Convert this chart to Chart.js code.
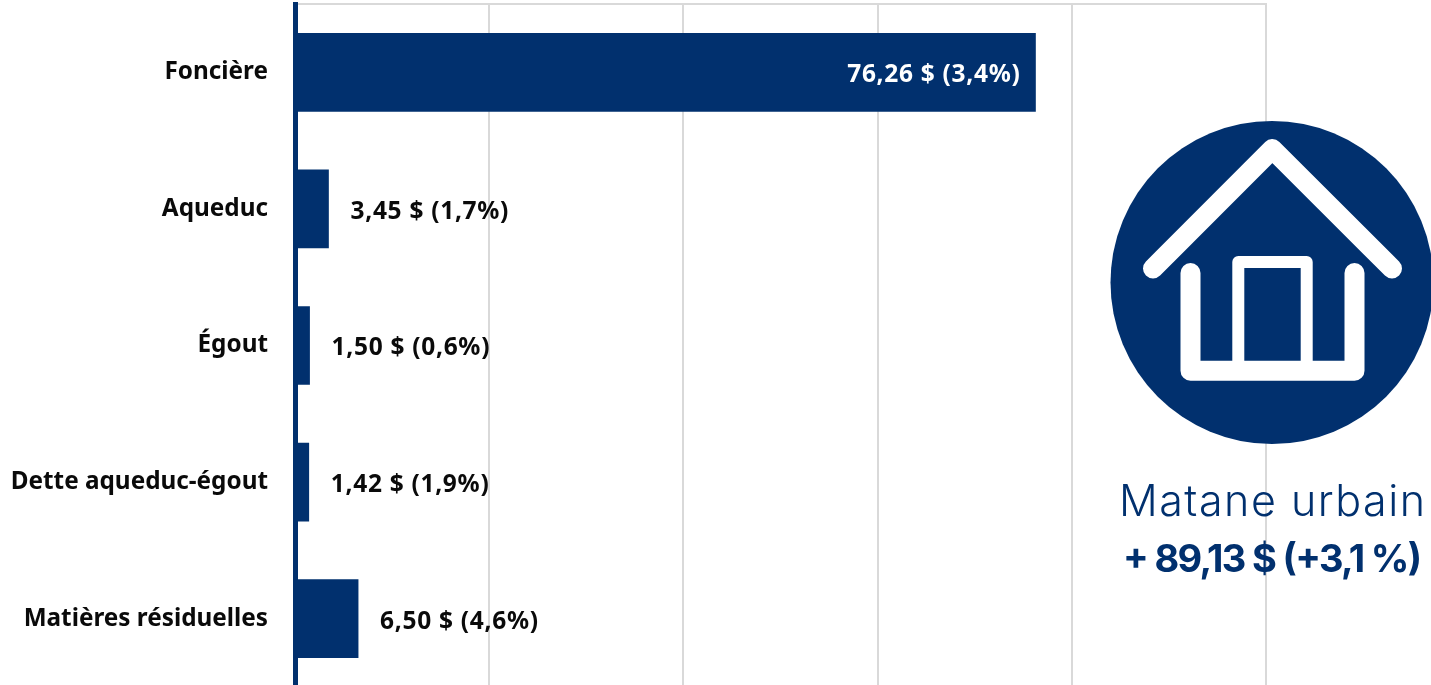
<!DOCTYPE html>
<html lang="fr">
<head>
<meta charset="utf-8">
<title>Matane urbain</title>
<script src="https://cdn.jsdelivr.net/npm/chart.js@4/dist/chart.umd.min.js"></script>
<style>
  html, body { margin: 0; padding: 0; background: #fff; overflow: hidden; }
  #wrap { position: relative; width: 1431px; height: 685px; overflow: hidden; }
  #chart { position: absolute; left: 0; top: 0; }
  #icon { position: absolute; left: 0; top: 0; }
</style>
</head>
<body>
<div id="wrap">
  <canvas id="chart" width="1431" height="690"></canvas>
  <svg id="icon" width="1431" height="685" viewBox="0 0 1431 685">
    <circle cx="1272" cy="282.5" r="161.5" fill="#01306e"/>
    <g fill="none" stroke="#fff" stroke-linecap="round" stroke-linejoin="round" stroke-width="20">
      <path d="M1153 268.5 L1272.3 149 L1392 268.5"/>
      <path d="M1190.5 273 V370.7 H1354.5 V273"/>
      <path d="M1238.3 370 V262 H1306.7 V370" stroke-width="12"/>
    </g>
    <text x="1119" y="516" font-family="Inter" font-weight="300" font-size="43" fill="#01306e" textLength="306" lengthAdjust="spacing">Matane urbain</text>
    <text x="1123" y="572" font-family="Inter" font-weight="700" font-size="38" fill="#01306e" textLength="299" lengthAdjust="spacing">+ 89,13 $ (+3,1 %)</text>
  </svg>
</div>
<script>
const categories = ["Foncière", "Aqueduc", "Égout", "Dette aqueduc-égout", "Matières résiduelles"];
const values = [76.26, 3.45, 1.50, 1.42, 6.50];
const valueLabels = ["76,26 $ (3,4%)", "3,45 $ (1,7%)", "1,50 $ (0,6%)", "1,42 $ (1,9%)", "6,50 $ (4,6%)"];

const navy = "#01306e";

// labels next to the bars, the long bar gets its label inside
const barLabels = {
  id: "barLabels",
  afterDatasetsDraw(chart) {
    const ctx = chart.ctx;
    const bars = chart.getDatasetMeta(0).data;
    ctx.save();
    ctx.font = "700 24.5px 'Noto Sans'";
    ctx.letterSpacing = "0.7px";
    ctx.textBaseline = "middle";
    bars.forEach((bar, i) => {
      const inside = values[i] > 50;
      ctx.fillStyle = inside ? "#fff" : "#0a0a0a";
      ctx.textAlign = inside ? "right" : "left";
      ctx.fillText(valueLabels[i], bar.x + (inside ? -15 : 22), bar.y + 3);
    });
    ctx.restore();
  }
};

new Chart(document.getElementById("chart"), {
  type: "bar",
  data: {
    labels: categories,
    datasets: [{ data: values, backgroundColor: navy, barThickness: 78, borderWidth: 0 }]
  },
  options: {
    indexAxis: "y",
    responsive: false,
    animation: false,
    layout: { padding: { top: 4, right: 165, bottom: 3, left: 0 } },
    plugins: { legend: { display: false }, tooltip: { enabled: false } },
    scales: {
      x: {
        position: "top",
        min: 0,
        max: 100,
        ticks: { stepSize: 20, display: false },
        grid: { color: "#d9d9d9", lineWidth: 2, drawTicks: false },
        border: { color: "#d9d9d9", width: 2 }
      },
      y: {
        afterFit(scale) {
          scale.width = 295;
          scale.paddingTop = 0;
          scale.paddingBottom = 0;
        },
        ticks: { color: "#0a0a0a", font: { family: "'Noto Sans'", size: 24.3, weight: "700" }, padding: 27 },
        grid: { display: false, drawTicks: false },
        border: { color: navy, width: 5 }
      }
    }
  },
  plugins: [barLabels]
});
</script>
</body>
</html>
